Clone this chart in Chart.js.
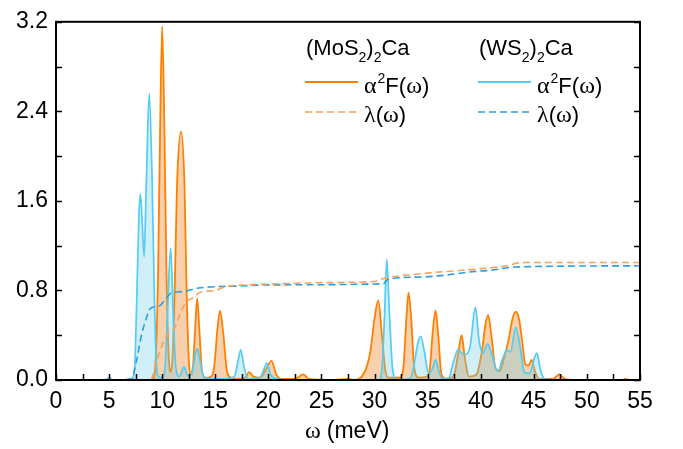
<!DOCTYPE html>
<html lang="en">
<head>
  <meta charset="UTF-8" />
  <title>Eliashberg function</title>
  <script src="https://cdn.jsdelivr.net/npm/chart.js"></script>
  <style>
    html, body { margin: 0; padding: 0; background: #fff; }
    #wrap { width: 683px; height: 449px; }
  </style>
</head>
<body>
  <div id="wrap"><canvas id="specChart" width="683" height="449"></canvas></div>

  <script>
    // (MoS2)2Ca  alpha^2 F(omega)
    const mosOmega = [0, 8.8, 9.1, 9.3, 9.6, 9.8, 10.0, 10.2, 10.4, 10.6, 10.8, 11.0, 11.2, 11.4, 11.77, 12.1, 12.3, 12.5, 12.65, 12.9,
      13.1, 13.3, 13.5, 13.75, 14.1, 14.6, 14.9, 15.2, 15.45, 15.75, 16.1, 16.5, 17.0, 17.8, 18.2, 18.6, 19.2, 19.8, 20.3, 20.7,
      21.2, 22.5, 23.3, 23.8, 26.0, 27.5, 28.0, 29.0, 29.6, 30.0, 30.35, 30.7, 31.0, 31.3, 32.3, 32.7, 33.0, 33.2, 33.45, 33.75,
      34.2, 34.9, 35.2, 35.5, 35.75, 36.0, 36.3, 36.8, 37.5, 37.9, 38.2, 38.5, 38.9, 39.6, 40.1, 40.45, 40.7, 41.0, 41.4, 41.8,
      42.2, 42.6, 43.0, 43.3, 43.6, 43.9, 44.2, 44.5, 44.8, 45.1, 45.5, 46.8, 47.4, 47.9, 49.0, 53.3, 53.6, 54.0, 55.0];
    const mosA2F = [0, 0, 0.01, 0.06, 0.9, 2.2, 3.16, 2.3, 1.0, 0.25, 0.07, 0.25, 0.9, 1.75, 2.22, 1.75, 0.8, 0.2, 0.05, 0.12,
      0.45, 0.73, 0.45, 0.08, 0.02, 0.03, 0.12, 0.45, 0.62, 0.42, 0.08, 0.02, 0.01, 0.02, 0.07, 0.03, 0.02, 0.1, 0.17, 0.06,
      0.01, 0.01, 0.05, 0.01, 0, 0.01, 0, 0.06, 0.25, 0.55, 0.71, 0.4, 0.1, 0.02, 0.02, 0.1, 0.55, 0.78, 0.55, 0.1,
      0.02, 0.03, 0.1, 0.45, 0.62, 0.4, 0.05, 0.01, 0.05, 0.25, 0.4, 0.2, 0.03, 0.05, 0.25, 0.5, 0.58, 0.4, 0.1, 0.08,
      0.2, 0.35, 0.55, 0.61, 0.55, 0.35, 0.14, 0.13, 0.18, 0.08, 0.01, 0.01, 0.05, 0.01, 0, 0, 0.01, 0, 0];

    // (WS2)2Ca  alpha^2 F(omega)
    const wsOmega = [0, 4.6, 5.0, 5.4, 7.1, 7.4, 7.6, 7.8, 7.95, 8.1, 8.3, 8.5, 8.78, 9.05, 9.25, 9.45, 9.65, 10.0, 10.3, 10.5,
      10.8, 11.05, 11.3, 11.6, 11.8, 12.05, 12.3, 12.6, 12.9, 13.1, 13.3, 13.55, 13.9, 14.5, 15.5, 16.8, 17.1, 17.4, 17.7, 18.1,
      19.2, 19.6, 19.85, 20.2, 20.8, 22.0, 30.4, 30.7, 30.95, 31.15, 31.4, 31.7, 32.1, 33.4, 33.8, 34.1, 34.35, 34.7, 35.1, 35.45,
      35.75, 36.05, 36.4, 37.0, 37.4, 37.85, 38.2, 38.6, 39.0, 39.5, 39.85, 40.2, 40.65, 41.0, 41.6, 42.1, 42.45, 42.8, 43.3, 43.7,
      44.1, 44.6, 45.0, 45.3, 45.6, 46.0, 47.0, 55.0];
    const wsA2F = [0, 0, 0.02, 0, 0, 0.1, 0.7, 1.45, 1.66, 1.45, 1.1, 1.75, 2.56, 1.8, 0.8, 0.15, 0.03, 0.02, 0.15, 0.6,
      1.18, 0.55, 0.1, 0.03, 0.06, 0.12, 0.06, 0.03, 0.1, 0.22, 0.28, 0.18, 0.03, 0.01, 0.01, 0.03, 0.15, 0.27, 0.12, 0.01,
      0.02, 0.1, 0.15, 0.05, 0.01, 0, 0, 0.1, 0.6, 1.08, 0.6, 0.1, 0, 0.02, 0.18, 0.34, 0.39, 0.25, 0.05, 0.1,
      0.18, 0.08, 0.01, 0.02, 0.15, 0.27, 0.24, 0.23, 0.3, 0.65, 0.35, 0.24, 0.32, 0.24, 0.08, 0.2, 0.27, 0.25, 0.47, 0.3,
      0.07, 0.06, 0.18, 0.24, 0.1, 0.01, 0, 0];

    // lambda(omega)
    const mosLamOmega = [9.0, 9.5, 10.1, 10.6, 11.2, 11.8, 12.3, 13.0, 13.5, 15.0, 15.8, 18.0, 21.0, 25.0, 30.0, 30.6, 31.5, 33.5, 35.5, 38.3, 40.7, 42.5, 43.8, 55.0];
    const mosLam = [0, 0.18, 0.33, 0.42, 0.47, 0.62, 0.70, 0.74, 0.78, 0.80, 0.83, 0.85, 0.86, 0.87, 0.88, 0.90, 0.92, 0.94, 0.96, 0.98, 1.00, 1.02, 1.05, 1.05];
    const wsLamOmega = [4.5, 7.1, 7.6, 8.0, 8.5, 8.9, 9.7, 10.3, 10.9, 12.0, 13.3, 17.4, 20.0, 30.8, 31.3, 34.4, 36.0, 39.5, 41.0, 43.3, 55.0];
    const wsLam = [0, 0.01, 0.18, 0.38, 0.55, 0.64, 0.66, 0.72, 0.78, 0.79, 0.82, 0.84, 0.85, 0.86, 0.90, 0.92, 0.93, 0.97, 0.98, 1.01, 1.02];

    const xTickLabels = [0, 5, 10, 15, 20, 25, 30, 35, 40, 45, 50, 55];
    const yTickLabels = ['0.0', '0.8', '1.6', '2.4', '3.2'];

    const ORANGE = '#ff8000';
    const BLUE = '#52cdf5';
    const ORANGE_DASH = '#f7a35c';
    const BLUE_DASH = '#2a9fe0';

    const pts = (xs, ys) => xs.map((x, i) => ({ x: x, y: ys[i] }));

    const SANS = 'Arial, "Liberation Sans", sans-serif';
    const SERIF = '"Liberation Serif", "Times New Roman", serif';

    // draw a row of text pieces with mixed fonts / sub & superscripts
    function drawRuns(ctx, x, y, runs) {
      ctx.textAlign = 'left';
      ctx.textBaseline = 'alphabetic';
      ctx.fillStyle = '#000';
      runs.forEach(r => {
        ctx.font = r.f;
        ctx.fillText(r.t, x, y + (r.dy || 0));
        x += ctx.measureText(r.t).width + (r.gap || 0);
      });
    }

    const boxPlugin = {
      id: 'boxPlugin',
      afterDraw(chart) {
        const ctx = chart.ctx;
        const a = chart.chartArea;
        const xs = chart.scales.x, ys = chart.scales.y;
        ctx.save();
        ctx.strokeStyle = '#000';
        ctx.lineWidth = 1.5;
        ctx.beginPath();
        xs.ticks.forEach(t => {
          const px = Math.round(xs.getPixelForValue(t.value)) + 0.5;
          ctx.moveTo(px, a.bottom); ctx.lineTo(px, a.bottom - 6);
        });
        ys.ticks.forEach(t => {
          const py = Math.round(ys.getPixelForValue(t.value)) + 0.5;
          ctx.moveTo(a.left, py); ctx.lineTo(a.left + 6, py);
          ctx.moveTo(a.right, py); ctx.lineTo(a.right - 6, py);
        });
        ctx.stroke();
        ctx.lineWidth = 2;
        ctx.strokeRect(a.left, a.top, a.right - a.left, a.bottom - a.top);

        // axis title
        drawRuns(ctx, 305, 438, [
          { t: 'ω', f: '24px ' + SERIF, gap: 6 },
          { t: '(meV)', f: '23px ' + SANS }
        ]);

        // legend
        const lf = '22px ' + SANS, sub = '14px ' + SANS, gf = '24px ' + SERIF;
        drawRuns(ctx, 306, 55, [
          { t: '(MoS', f: lf }, { t: '2', f: sub, dy: 7 }, { t: ')', f: lf },
          { t: '2', f: sub, dy: 7 }, { t: 'Ca', f: lf }
        ]);
        drawRuns(ctx, 479, 55, [
          { t: '(WS', f: lf }, { t: '2', f: sub, dy: 7 }, { t: ')', f: lf },
          { t: '2', f: sub, dy: 7 }, { t: 'Ca', f: lf }
        ]);
        [[305, ORANGE, ORANGE_DASH], [478, BLUE, BLUE_DASH]].forEach(([lx, solid, dash]) => {
          ctx.lineWidth = 2;
          ctx.strokeStyle = solid;
          ctx.setLineDash([]);
          ctx.beginPath(); ctx.moveTo(lx, 82); ctx.lineTo(lx + 53, 82); ctx.stroke();
          ctx.lineWidth = 1.6;
          ctx.strokeStyle = dash;
          ctx.setLineDash([7, 4]);
          ctx.beginPath(); ctx.moveTo(lx, 112); ctx.lineTo(lx + 53, 112); ctx.stroke();
          ctx.setLineDash([]);
          const tx = lx + 59;
          drawRuns(ctx, tx, 93, [
            { t: 'α', f: gf, gap: 1 }, { t: '2', f: sub, dy: -10 }, { t: 'F(', f: lf },
            { t: 'ω', f: gf }, { t: ')', f: lf }
          ]);
          drawRuns(ctx, tx, 122, [
            { t: 'λ', f: gf }, { t: '(', f: lf }, { t: 'ω', f: gf }, { t: ')', f: lf }
          ]);
        });
        ctx.restore();
      }
    };

    const ctx = document.getElementById('specChart').getContext('2d');

    new Chart(ctx, {
      type: 'line',
      data: {
        datasets: [
          {
            label: '(MoS2)2Ca λ(ω)',
            data: pts(mosLamOmega, mosLam),
            borderColor: ORANGE_DASH,
            borderWidth: 1.6,
            borderDash: [7, 4],
            fill: false,
            order: 0
          },
          {
            label: '(WS2)2Ca λ(ω)',
            data: pts(wsLamOmega, wsLam),
            borderColor: BLUE_DASH,
            borderWidth: 1.6,
            borderDash: [7, 4],
            fill: false,
            order: 1
          },
          {
            label: '(WS2)2Ca α2F(ω)',
            data: pts(wsOmega, wsA2F),
            borderColor: BLUE,
            backgroundColor: 'rgba(110, 205, 232, 0.32)',
            borderWidth: 1.7,
            fill: 'origin',
            order: 2
          },
          {
            label: '(MoS2)2Ca α2F(ω)',
            data: pts(mosOmega, mosA2F),
            borderColor: ORANGE,
            backgroundColor: 'rgba(240, 150, 70, 0.45)',
            borderWidth: 1.8,
            fill: 'origin',
            order: 3
          }
        ]
      },
      options: {
        responsive: false,
        animation: false,
        layout: { padding: { top: 14, right: 43, left: 0, bottom: 0 } },
        elements: {
          point: { radius: 0 },
          line: { cubicInterpolationMode: 'monotone' }
        },
        scales: {
          x: {
            type: 'linear',
            min: 0,
            max: 55,
            grid: { display: false, drawTicks: false },
            border: { display: false },
            afterFit(s) { s.height = 69; },
            ticks: {
              stepSize: 2.5,
              autoSkip: false,
              maxRotation: 0,
              padding: 8,
              color: '#000',
              font: { family: SANS, size: 23 },
              callback: v => xTickLabels.includes(v) ? String(v) : ''
            }
          },
          y: {
            min: 0,
            max: 3.2,
            grid: { display: false, drawTicks: false },
            border: { display: false },
            afterFit(s) { s.width = 56; },
            ticks: {
              stepSize: 0.4,
              autoSkip: false,
              padding: 8,
              color: '#000',
              font: { family: SANS, size: 23 },
              callback: v => {
                const lbl = (Math.round(v * 10) / 10).toFixed(1);
                return yTickLabels.includes(lbl) ? lbl : '';
              }
            }
          }
        },
        plugins: {
          legend: { display: false },
          tooltip: { enabled: false }
        }
      },
      plugins: [boxPlugin]
    });
  </script>
</body>
</html>
